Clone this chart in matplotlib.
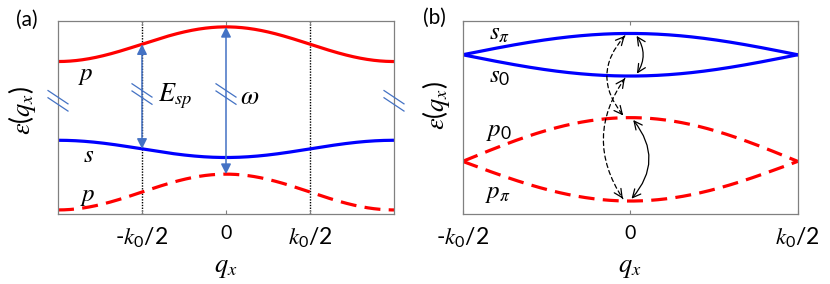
import numpy as np
import matplotlib
matplotlib.use("Agg")
import matplotlib.pyplot as plt
from matplotlib.patches import FancyArrowPatch

plt.rcParams['font.family'] = ['Lato', 'DejaVu Sans']
plt.rcParams['mathtext.fontset'] = 'custom'
plt.rcParams['mathtext.rm'] = 'Lato'
plt.rcParams['mathtext.it'] = 'STIXGeneral:italic'
plt.rcParams['mathtext.bf'] = 'Lato:bold'

# ---------------- data ----------------
# panel (a): extended zone, q in units of k0
qa_ticks = [-0.5, 0.0, 0.5]
qa_ticklabels = ['-$k_0$/2', '0', '$k_0$/2']
bands_a_labels = ['$p$', '$s$', '$p$']
bands_a_zero = [0.967, 0.292, 0.206]   # energy at q = 0
bands_a_edge = [0.788, 0.381, 0.021]   # energy at q = +-k0
# transitions in (a): (q, upper band index, lower band index, label)
trans_a = [(-0.5, 0, 1, '$E_{sp}$'), (0.0, 0, 2, r'$\omega$')]

# panel (b): reduced zone
qb_ticks = [-0.5, 0.0, 0.5]
qb_ticklabels = ['-$k_0$/2', '0', '$k_0$/2']
bands_b_labels = [r'$s_\pi$', '$s_0$', '$p_0$', r'$p_\pi$']
bands_b_zero = [0.933, 0.713, 0.498, 0.067]   # energy at q = 0
bands_b_edge = [0.823, 0.823, 0.272, 0.272]   # energy at q = +-k0/2
# transitions in (b): (upper band, lower band, allowed?)
trans_b = [(0, 1, True), (0, 2, False), (1, 3, False), (2, 3, True)]

# ---------------- styles ----------------
W, H = 830, 284
RED, BLUE = '#ff0000', '#0000ff'
ARROW_BLUE = '#4472c4'
SPINE = '#808080'
a_colors = [RED, BLUE, RED]
a_dashed = [False, False, True]
b_colors = [BLUE, BLUE, RED, RED]
b_dashed = [False, False, True, True]

fig = plt.figure(figsize=(W / 100, H / 100), dpi=100)
axA = fig.add_axes([58 / W, 1 - 214 / H, 336 / W, 193.5 / H])
axB = fig.add_axes([462.7 / W, 1 - 214 / H, 335 / W, 193.5 / H])


def style_axes(ax, ticks, labels, xlim):
    ax.set_xlim(*xlim)
    ax.set_ylim(0, 1)
    ax.set_yticks([])
    ax.set_xticks(ticks)
    ax.set_xticklabels(labels)
    for lbl in ax.get_xticklabels():
        lbl.set_fontsize(14 if lbl.get_text() == '0' else 16.5)
    ax.tick_params(axis='x', direction='in', top=True, length=3, width=0.8,
                   color=SPINE, pad=8)
    for s in ax.spines.values():
        s.set_color(SPINE)
        s.set_linewidth(0.9)
    ax.set_xlabel('$q_x$', fontsize=19)
    ax.set_ylabel(r'$\varepsilon(q_x)$', fontsize=19)


def band_a(q, i):
    z, e = bands_a_zero[i], bands_a_edge[i]
    return (z + e) / 2 + (z - e) / 2 * np.cos(np.pi * q)


def band_b(q, i):
    z, e = bands_b_zero[i], bands_b_edge[i]
    return e + (z - e) * np.cos(np.pi * q)


def break_mark(ax, x, y):
    X, Y = ax.transData.transform((x, y))
    inv = ax.transData.inverted()
    for off in (3.6, -3.6):
        p1 = inv.transform((X - 10.5, Y + off + 7))
        p2 = inv.transform((X + 10.5, Y + off - 7))
        ax.plot([p1[0], p2[0]], [p1[1], p2[1]], color=ARROW_BLUE, lw=0.9,
                clip_on=False, zorder=6, solid_capstyle='butt')


# ---------------- panel (a) ----------------
style_axes(axA, qa_ticks, qa_ticklabels, (-1, 1))
qa = np.linspace(-1, 1, 500)
for i in range(3):
    kw = dict(color=a_colors[i], lw=2.3)
    if a_dashed[i]:
        axA.plot(qa, band_a(qa, i), dashes=(5, 2.6), **kw)
    else:
        axA.plot(qa, band_a(qa, i), **kw)
for x in (-0.5, 0.5):
    axA.axvline(x, color='k', lw=1.0, ls=(0, (1, 1)), zorder=1)

for q, up, lo, lab in trans_a:
    y1 = band_a(q, up)
    y2 = band_a(q, lo)
    axA.add_patch(FancyArrowPatch((q, y1), (q, y2), arrowstyle='<|-|>',
                                  mutation_scale=15, lw=1.1, color=ARROW_BLUE,
                                  shrinkA=0, shrinkB=0, zorder=5))
    break_mark(axA, q, 0.62)
axA.text(-0.302, 0.61, trans_a[0][3], fontsize=19, ha='center', va='center')
axA.text(0.139, 0.607, trans_a[1][3], fontsize=19, ha='center', va='center')
break_mark(axA, -1, 0.585)
break_mark(axA, 1, 0.585)

label_pos_a = [(-0.835, 0.718), (-0.817, 0.305), (-0.823, 0.090)]
for (x, y), lab in zip(label_pos_a, bands_a_labels):
    axA.text(x, y, lab, fontsize=18, ha='center', va='center')

axA.xaxis.set_label_coords(0.5, -0.21)
axA.yaxis.set_label_coords(-0.06, 0.535)
fig.text(27 / W, 1 - 20 / H, '(a)', fontsize=15, ha='center', va='center')

# ---------------- panel (b) ----------------
style_axes(axB, qb_ticks, qb_ticklabels, (-0.5, 0.5))
qb = np.linspace(-0.5, 0.5, 500)
for i in range(4):
    kw = dict(color=b_colors[i], lw=2.3)
    if b_dashed[i]:
        axB.plot(qb, band_b(qb, i), dashes=(5, 2.6), **kw)
    else:
        axB.plot(qb, band_b(qb, i), **kw)

label_pos_b = [(-0.389, 0.933), (-0.389, 0.711), (-0.392, 0.426), (-0.395, 0.106)]
for (x, y), lab in zip(label_pos_b, bands_b_labels):
    axB.text(x, y, lab, fontsize=18, ha='center', va='center')

# arrow geometry (layout only): x of top end, x of bottom end, arc rad
arrow_layout = {(0, 1): (0.019, 0.020, -0.32),
                (0, 2): (-0.016, -0.021, 0.43),
                (1, 3): (-0.016, -0.022, 0.34),
                (2, 3): (0.009, 0.004, -0.41)}


def dashed_arc_arrow(ax, p1, p2, rad):
    kw = dict(color='k', lw=0.9, shrinkA=0, shrinkB=0, zorder=6)
    ax.add_patch(FancyArrowPatch(p1, p2, arrowstyle='-',
                                 connectionstyle=f'arc3,rad={rad}',
                                 linestyle=(0, (3.5, 2.5)), **kw))
    P1 = ax.transData.transform(p1)
    P2 = ax.transData.transform(p2)
    mid = (P1 + P2) / 2
    d = P2 - P1
    C = np.array([mid[0] + rad * d[1], mid[1] - rad * d[0]])
    inv = ax.transData.inverted()
    for E in (P1, P2):
        u = (E - C) / np.hypot(*(E - C))
        S = E - 2.0 * u
        ax.add_patch(FancyArrowPatch(inv.transform(S), inv.transform(E),
                                     arrowstyle='->,head_length=0.45,head_width=0.22',
                                     mutation_scale=13, **kw))


for up, lo, allowed in trans_b:
    x1, x2, rad = arrow_layout[(up, lo)]
    y1 = band_b(x1, up) - 0.012
    y2 = band_b(x2, lo) + 0.012
    if allowed:
        axB.add_patch(FancyArrowPatch((x1, y1), (x2, y2),
                                      arrowstyle='<->,head_length=0.45,head_width=0.22',
                                      connectionstyle=f'arc3,rad={rad}',
                                      mutation_scale=13, color='k', lw=0.9,
                                      shrinkA=0, shrinkB=0, zorder=6))
    else:
        dashed_arc_arrow(axB, (x1, y1), (x2, y2), rad)

axB.xaxis.set_label_coords(0.5, -0.21)
axB.yaxis.set_label_coords(-0.032, 0.561)
fig.text(434 / W, 1 - 18 / H, '(b)', fontsize=15, ha='center', va='center')

fig.savefig('out.png', dpi=100)
